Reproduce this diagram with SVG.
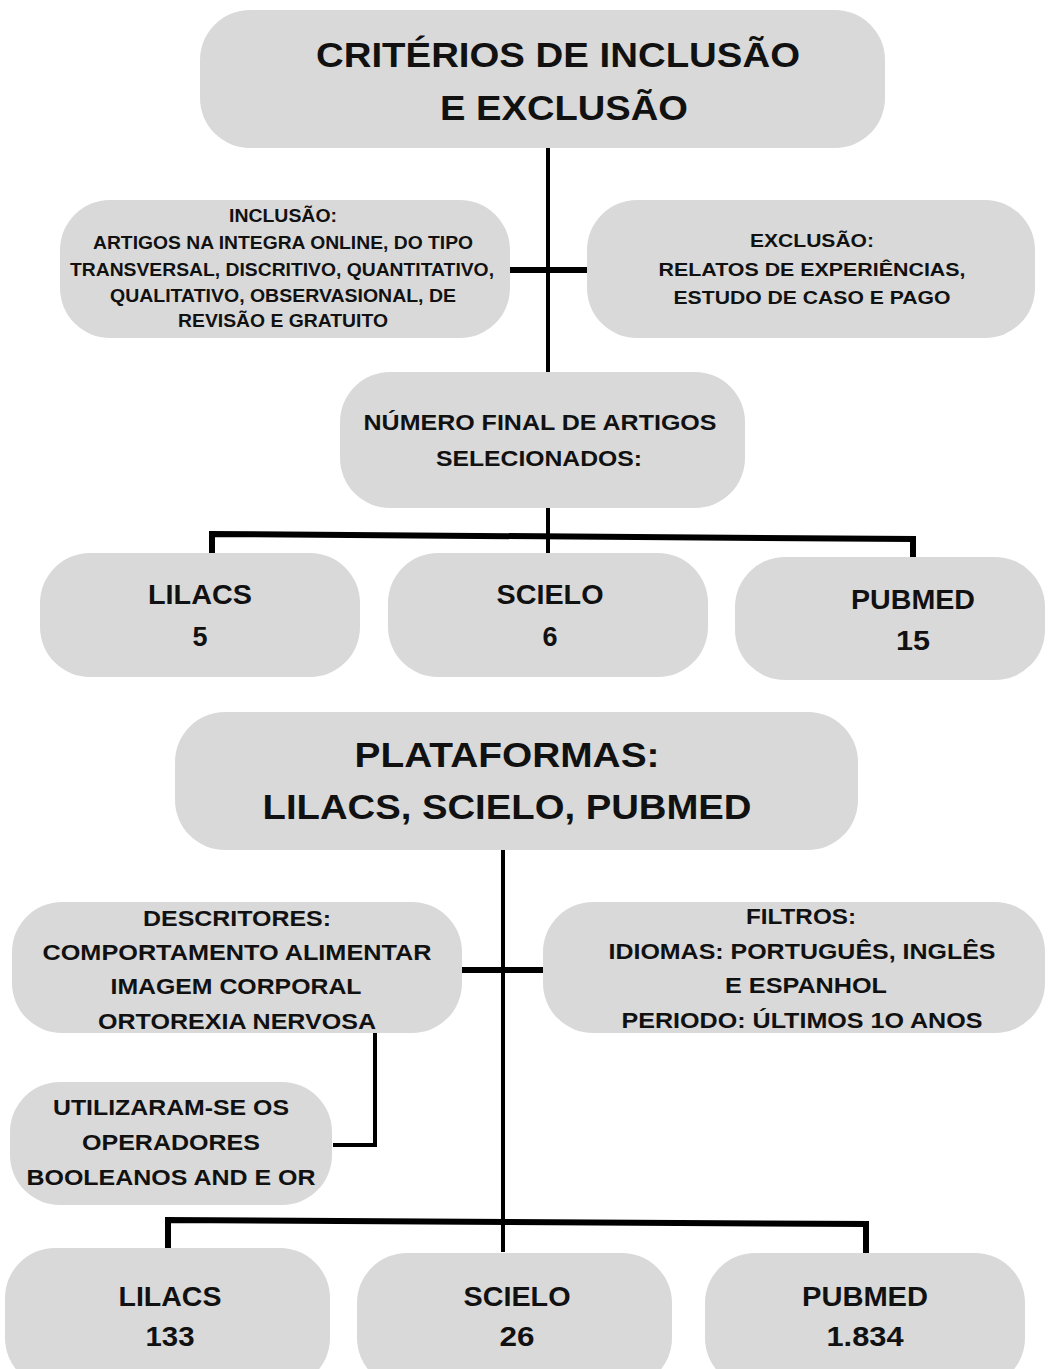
<svg xmlns="http://www.w3.org/2000/svg" width="1049" height="1369" viewBox="0 0 1049 1369">
<style>
.box{fill:#d9d9d9;}
.t{font-family:"Liberation Sans",Arial,sans-serif;font-weight:bold;fill:#111;text-anchor:middle;}
.big{font-size:35px;}
.med{font-size:27px;}
.mid{font-size:22.5px;}
.sm{font-size:17.5px;}
.ln{stroke:#000;fill:none;stroke-width:4;}
.thk{stroke:#000;fill:none;stroke-width:6;}
</style>
<rect width="1049" height="1369" fill="#fff"/>
<g id="connectors">
<line class="ln" x1="548" y1="148" x2="548" y2="372"/>
<line class="thk" x1="510" y1="270" x2="587" y2="270"/>
<line class="ln" x1="548" y1="508" x2="548" y2="553"/>
<polyline class="thk" points="212,553 212,534 913,539 913,557"/>
<line class="ln" x1="503" y1="850" x2="503" y2="1252"/>
<line class="thk" x1="462" y1="970" x2="543" y2="970"/>
<polyline class="ln" points="375,1033 375,1145 333,1145"/>
<polyline class="thk" points="168,1250 168,1220 866,1224 866,1253"/>
</g>
<g id="n-criterios"><rect class="box" x="200" y="10" width="685" height="138" rx="50"/>
<text class="t big" x="558" y="67" textLength="484" lengthAdjust="spacingAndGlyphs">CRITÉRIOS DE INCLUSÃO</text>
<text class="t big" x="564" y="120" textLength="248" lengthAdjust="spacingAndGlyphs">E EXCLUSÃO</text></g>
<g id="n-inclusao"><rect class="box" x="60" y="200" width="450" height="138" rx="50"/>
<text class="t sm" x="283" y="222" textLength="108" lengthAdjust="spacingAndGlyphs">INCLUSÃO:</text>
<text class="t sm" x="283" y="249" textLength="380" lengthAdjust="spacingAndGlyphs">ARTIGOS NA INTEGRA ONLINE, DO TIPO</text>
<text class="t sm" x="282" y="276" textLength="424" lengthAdjust="spacingAndGlyphs">TRANSVERSAL, DISCRITIVO, QUANTITATIVO,</text>
<text class="t sm" x="283" y="302" textLength="346" lengthAdjust="spacingAndGlyphs">QUALITATIVO, OBSERVASIONAL, DE</text>
<text class="t sm" x="283" y="327" textLength="210" lengthAdjust="spacingAndGlyphs">REVISÃO E GRATUITO</text></g>
<g id="n-exclusao"><rect class="box" x="587" y="200" width="448" height="138" rx="50"/>
<text class="t sm" x="812" y="247" textLength="124" lengthAdjust="spacingAndGlyphs">EXCLUSÃO:</text>
<text class="t sm" x="812" y="276" textLength="307" lengthAdjust="spacingAndGlyphs">RELATOS DE EXPERIÊNCIAS,</text>
<text class="t sm" x="812" y="304" textLength="277" lengthAdjust="spacingAndGlyphs">ESTUDO DE CASO E PAGO</text></g>
<g id="n-numero"><rect class="box" x="340" y="372" width="405" height="136" rx="50"/>
<text class="t mid" x="540" y="430" textLength="353" lengthAdjust="spacingAndGlyphs">NÚMERO FINAL DE ARTIGOS</text>
<text class="t mid" x="539" y="466" textLength="206" lengthAdjust="spacingAndGlyphs">SELECIONADOS:</text></g>
<g id="n-lilacs1"><rect class="box" x="40" y="553" width="320" height="124" rx="50"/>
<text class="t med" x="200" y="604" textLength="104" lengthAdjust="spacingAndGlyphs">LILACS</text>
<text class="t med" x="200" y="646">5</text></g>
<g id="n-scielo1"><rect class="box" x="388" y="553" width="320" height="124" rx="50"/>
<text class="t med" x="550" y="604" textLength="107" lengthAdjust="spacingAndGlyphs">SCIELO</text>
<text class="t med" x="550" y="646">6</text></g>
<g id="n-pubmed1"><rect class="box" x="735" y="557" width="310" height="123" rx="50"/>
<text class="t med" x="913" y="609" textLength="124" lengthAdjust="spacingAndGlyphs">PUBMED</text>
<text class="t med" x="913" y="650" textLength="34" lengthAdjust="spacingAndGlyphs">15</text></g>
<g id="n-plataformas"><rect class="box" x="175" y="712" width="683" height="138" rx="50"/>
<text class="t big" x="507" y="767" textLength="305" lengthAdjust="spacingAndGlyphs">PLATAFORMAS:</text>
<text class="t big" x="507" y="819" textLength="489" lengthAdjust="spacingAndGlyphs">LILACS, SCIELO, PUBMED</text></g>
<g id="n-descritores"><rect class="box" x="12" y="902" width="450" height="131" rx="50"/>
<text class="t mid" x="237" y="926" textLength="188" lengthAdjust="spacingAndGlyphs">DESCRITORES:</text>
<text class="t mid" x="237" y="960" textLength="389" lengthAdjust="spacingAndGlyphs">COMPORTAMENTO ALIMENTAR</text>
<text class="t mid" x="236" y="994" textLength="251" lengthAdjust="spacingAndGlyphs">IMAGEM CORPORAL</text>
<text class="t mid" x="237" y="1029" textLength="278" lengthAdjust="spacingAndGlyphs">ORTOREXIA NERVOSA</text></g>
<g id="n-filtros"><rect class="box" x="543" y="902" width="502" height="131" rx="50"/>
<text class="t mid" x="801" y="924" textLength="110" lengthAdjust="spacingAndGlyphs">FILTROS:</text>
<text class="t mid" x="802" y="959" textLength="387" lengthAdjust="spacingAndGlyphs">IDIOMAS: PORTUGUÊS, INGLÊS</text>
<text class="t mid" x="806" y="993" textLength="162" lengthAdjust="spacingAndGlyphs">E ESPANHOL</text>
<text class="t mid" x="802" y="1028" textLength="361" lengthAdjust="spacingAndGlyphs">PERIODO: ÚLTIMOS 1O ANOS</text></g>
<g id="n-operadores"><rect class="box" x="10" y="1082" width="322" height="123" rx="50"/>
<text class="t mid" x="171" y="1115" textLength="236" lengthAdjust="spacingAndGlyphs">UTILIZARAM-SE OS</text>
<text class="t mid" x="171" y="1150" textLength="178" lengthAdjust="spacingAndGlyphs">OPERADORES</text>
<text class="t mid" x="171" y="1185" textLength="289" lengthAdjust="spacingAndGlyphs">BOOLEANOS AND E OR</text></g>
<g id="n-lilacs2"><rect class="box" x="5" y="1248" width="325" height="140" rx="50"/>
<text class="t med" x="170" y="1306" textLength="103" lengthAdjust="spacingAndGlyphs">LILACS</text>
<text class="t med" x="170" y="1346" textLength="49" lengthAdjust="spacingAndGlyphs">133</text></g>
<g id="n-scielo2"><rect class="box" x="357" y="1253" width="315" height="135" rx="50"/>
<text class="t med" x="517" y="1306" textLength="107" lengthAdjust="spacingAndGlyphs">SCIELO</text>
<text class="t med" x="517" y="1346" textLength="35" lengthAdjust="spacingAndGlyphs">26</text></g>
<g id="n-pubmed2"><rect class="box" x="705" y="1253" width="320" height="135" rx="50"/>
<text class="t med" x="865" y="1306" textLength="126" lengthAdjust="spacingAndGlyphs">PUBMED</text>
<text class="t med" x="865" y="1346" textLength="77" lengthAdjust="spacingAndGlyphs">1.834</text></g>
</svg>
